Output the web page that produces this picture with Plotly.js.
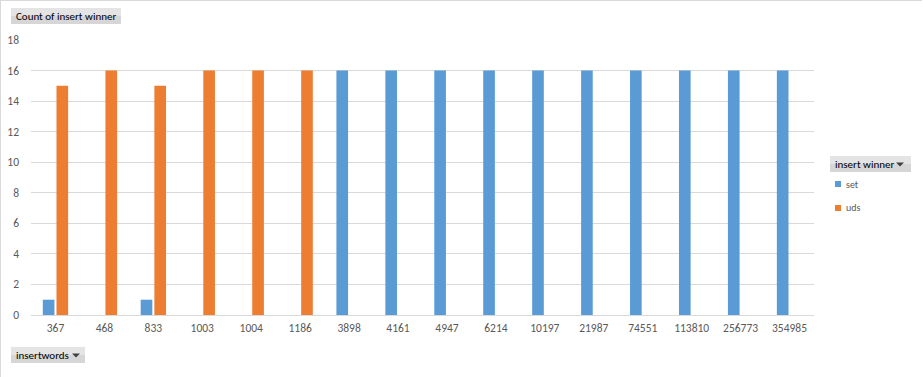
<!DOCTYPE html>
<html>
<head>
<meta charset="utf-8">
<script src="https://cdn.plot.ly/plotly-3.0.1.min.js"></script>
<style>
html,body{margin:0;padding:0;background:#fff;}
#wrap{position:absolute;left:0;top:0;width:921px;height:376px;border-left:1px solid #d9d9d9;border-top:1px solid #d9d9d9;}
#chart{width:923px;height:377px;position:absolute;left:-1px;top:-1px;}
</style>
</head>
<body>
<div id="wrap"><div id="chart"></div></div>
<script>
const categories = ['367','468','833','1003','1004','1186','3898','4161','4947','6214','10197','21987','74551','113810','256773','354985'];
const setValues  = [1, null, 1, null, null, null, 16, 16, 16, 16, 16, 16, 16, 16, 16, 16];
const udsValues  = [15, 16, 15, 16, 16, 16, null, null, null, null, null, null, null, null, null, null];
const seriesNames = ['set', 'uds'];
const yTicks = [0, 2, 4, 6, 8, 10, 12, 14, 16, 18];

const W = 923, H = 377;
const L = 31, R = 814, T = 40, B = 315;
const px = x => (x - L) / (R - L);
const py = y => (B - y) / (B - T);
const FONT = 'Carlito, "Liberation Sans Narrow", "Liberation Sans", sans-serif';

function button(x0, y0, x1, y1, label, arrowX) {
  const shapes = [
    {type:'rect', xref:'paper', yref:'paper', x0:px(x0), x1:px(x1), y0:py(y0), y1:py(y1),
     fillcolor:'#d6d6d6', line:{width:0}, layer:'above'},
    {type:'rect', xref:'paper', yref:'paper', x0:px(x0), x1:px(x1), y0:py(y0), y1:py((y0+y1)/2),
     fillcolor:'#e4e4e4', line:{width:0}, layer:'above'}
  ];
  if (arrowX) {
    const ax = arrowX, ay = (y0 + y1) / 2;
    shapes.push({type:'path', xref:'paper', yref:'paper',
      path:`M ${px(ax-4)} ${py(ay-1.5)} L ${px(ax+4)} ${py(ay-1.5)} L ${px(ax)} ${py(ay+2.5)} Z`,
      fillcolor:'#404040', line:{width:0}, layer:'above'});
  }
  const ann = {xref:'paper', yref:'paper', x:px(x0+3), y:py((y0+y1)/2), xanchor:'left', yanchor:'middle',
    text:label, showarrow:false, font:{family:FONT, size:11, color:'#000'}};
  return {shapes, ann};
}

const b1 = button(11, 8, 121, 24, 'Count of insert winner', null);
const b2 = button(830, 156, 911, 172, 'insert winner', 900);
const b3 = button(11, 347, 85, 363, 'insertwords', 76);

const colors = ['#5B9BD5', '#ED7D31'];
const legendShapes = [0, 1].map(i => ({type:'rect', xref:'paper', yref:'paper',
  x0:px(835), x1:px(841), y0:py(181 + i*24), y1:py(187 + i*24), fillcolor:colors[i], line:{width:0}}));
const legendAnns = [0, 1].map(i => ({xref:'paper', yref:'paper', x:px(844), y:py(184 + i*24),
  xanchor:'left', yanchor:'middle', text:seriesNames[i], showarrow:false,
  font:{family:FONT, size:10, color:'#595959'}}));

const data = [
  {type:'bar', name:seriesNames[0], x:categories, y:setValues, marker:{color:colors[0]}, hoverinfo:'x+y+name'},
  {type:'bar', name:seriesNames[1], x:categories, y:udsValues, marker:{color:colors[1]}, hoverinfo:'x+y+name'}
];

const layout = {
  width: W, height: H,
  margin: {l:L, r:W-R, t:T, b:H-B, pad:0},
  paper_bgcolor:'rgba(0,0,0,0)', plot_bgcolor:'rgba(0,0,0,0)',
  barmode:'group', bargap:0.44, bargroupgap:0.15,
  showlegend:false,
  font:{family:FONT, size:11, color:'#595959'},
  xaxis:{type:'category', tickvals:categories, ticktext:categories, showgrid:false, zeroline:false,
    showline:false, ticks:'', ticklen:0, ticklabelstandoff:4,
    tickfont:{family:FONT, size:11.5, color:'#595959'}, fixedrange:true},
  yaxis:{range:[0,18], tickvals:yTicks, showgrid:true, gridcolor:'#d9d9d9', gridwidth:1,
    zeroline:true, zerolinecolor:'#d9d9d9', zerolinewidth:1, showline:false, ticks:'',
    ticklabelstandoff:11, tickfont:{family:FONT, size:11.5, color:'#595959'}, fixedrange:true},
  shapes: [...b1.shapes, ...b2.shapes, ...b3.shapes, ...legendShapes],
  annotations: [b1.ann, b2.ann, b3.ann, ...legendAnns]
};

Plotly.newPlot('chart', data, layout, {displayModeBar:false, staticPlot:true});
</script>
</body>
</html>
